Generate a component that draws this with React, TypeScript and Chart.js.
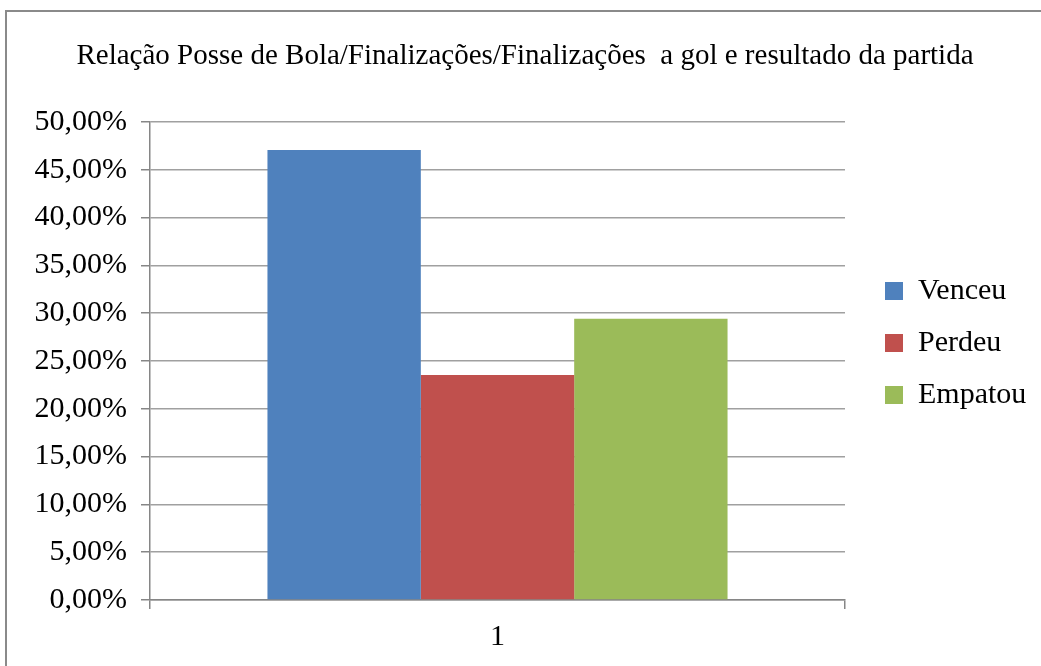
import { useEffect, useRef } from 'react';
import { Chart, registerables } from 'chart.js';

Chart.register(...registerables);

const TITLE = 'Relação Posse de Bola/Finalizações/Finalizações  a gol e resultado da partida';
const CATEGORIES = ['1'];
const SERIES_NAMES = ['Venceu', 'Perdeu', 'Empatou'];
const VENCEU = [47.06];
const PERDEU = [23.53];
const EMPATOU = [29.41];
const SERIES_COLORS = ['#4F81BD', '#C0504D', '#9BBB59'];
const Y_MIN = 0;
const Y_MAX = 50;
const Y_STEP = 5;

const FONT = "'Liberation Serif', 'Times New Roman', serif";
const W = 1041;
const H = 666;
const PAD_L = 0;
const PAD_R = 40;
const PLOT_LEFT = 150;
const PLOT_BOTTOM = 600;
const PLOT_RIGHT = 845;
const TITLE_CENTER = 525;
const LEGEND_DX = 18;
const LEGEND_DY = -18;

const fmt = (v: number) => v.toFixed(2).replace('.', ',') + '%';

const framePlugin = {
  id: 'frame',
  beforeDraw(chart: any) {
    const ctx = chart.ctx;
    ctx.save();
    ctx.fillStyle = '#ffffff';
    ctx.fillRect(0, 0, chart.width, chart.height);
    ctx.strokeStyle = '#8a8a8a';
    ctx.lineWidth = 2;
    ctx.beginPath();
    ctx.moveTo(6, chart.height + 5);
    ctx.lineTo(6, 11);
    ctx.lineTo(chart.width + 5, 11);
    ctx.stroke();
    ctx.restore();
  },
};

const layoutTweaks = {
  id: 'layoutTweaks',
  afterLayout(chart: any) {
    const l = chart.legend;
    if (l) {
      l.left += LEGEND_DX;
      l.right = chart.width;
      l.width = l.right - l.left;
      l.top += LEGEND_DY;
      l.bottom += LEGEND_DY;
    }
    const t = chart.titleBlock;
    if (t) {
      const dx = TITLE_CENTER - (t.left + t.right) / 2;
      t.left += dx;
      t.right += dx;
    }
  },
};

export default function App() {
  const ref = useRef<HTMLCanvasElement | null>(null);

  useEffect(() => {
    if (!ref.current) return;
    const seriesData = [VENCEU, PERDEU, EMPATOU];
    const chart = new Chart(ref.current, {
      type: 'bar',
      data: {
        labels: CATEGORIES,
        datasets: SERIES_NAMES.map((name, i) => ({
          label: name,
          data: seriesData[i],
          backgroundColor: SERIES_COLORS[i],
          borderWidth: 0,
          categoryPercentage: 0.662,
          barPercentage: 1,
        })),
      },
      options: {
        animation: false,
        responsive: true,
        maintainAspectRatio: false,
        layout: { padding: { left: PAD_L, right: PAD_R, top: 0, bottom: 0 } },
        plugins: {
          title: {
            display: true,
            text: TITLE,
            color: '#000',
            font: { family: FONT, size: 29, weight: 'normal' },
            padding: { top: 39, bottom: 48.2 },
          },
          legend: {
            display: true,
            position: 'right',
            fullSize: false,
            maxWidth: W - PAD_R - PLOT_RIGHT,
            labels: {
              color: '#000',
              font: { family: FONT, size: 30 },
              boxWidth: 18,
              boxHeight: 18,
              padding: 22,
            },
          },
          tooltip: { enabled: false },
        },
        scales: {
          x: {
            offset: true,
            grid: {
              offset: true,
              drawOnChartArea: false,
              drawTicks: true,
              tickLength: 9,
              color: '#868686',
              lineWidth: 1.5,
            },
            border: { color: '#868686', width: 1.5 },
            ticks: {
              color: '#000',
              font: { family: FONT, size: 30 },
              padding: 10.5,
            },
            afterFit(scale: any) {
              scale.height = H - PLOT_BOTTOM;
            },
          },
          y: {
            min: Y_MIN,
            max: Y_MAX,
            grid: {
              color: '#a0a0a0',
              lineWidth: 1.5,
              tickLength: 9,
              tickColor: '#868686',
            },
            border: { color: '#868686', width: 1.5 },
            ticks: {
              stepSize: Y_STEP,
              color: '#000',
              font: { family: FONT, size: 30 },
              padding: 14,
              callback: (v: any) => fmt(Number(v)),
            },
            afterFit(scale: any) {
              scale.width = PLOT_LEFT - PAD_L;
            },
          },
        },
      },
      plugins: [framePlugin, layoutTweaks],
    });
    return () => chart.destroy();
  }, []);

  return (
    <div style={{ position: 'absolute', left: 0, top: 0, width: W, height: H, background: '#fff' }}>
      <canvas ref={ref} />
    </div>
  );
}
